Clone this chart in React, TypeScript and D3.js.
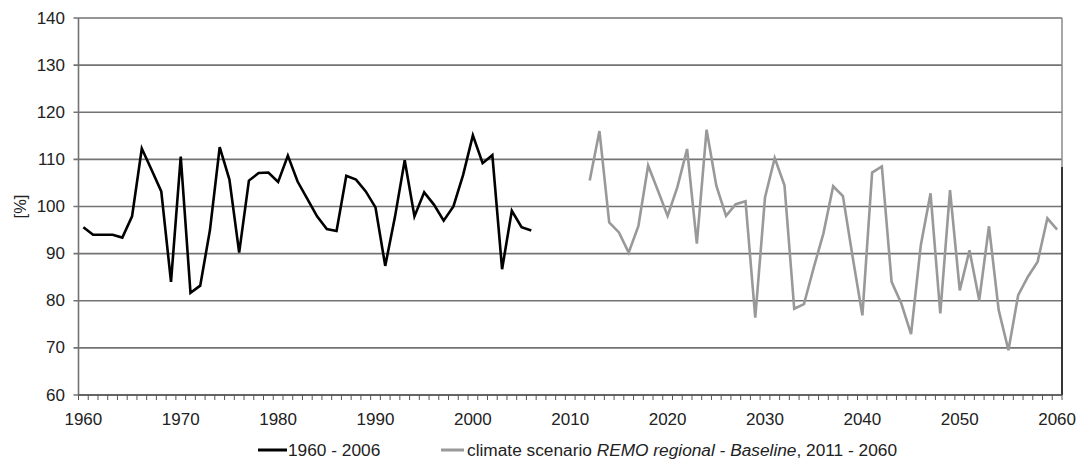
import React from 'react'
import * as d3 from 'd3'

// observed series 1960 - 2006
const obsYears = d3.range(1960, 2007)
const obsValues = [
  95.6, 94.0, 94.0, 94.0, 93.4, 97.9, 112.3, 107.8, 103.2, 84.0,
  110.6, 81.7, 83.2, 95.0, 112.6, 105.7, 90.2, 105.5, 107.1, 107.2,
  105.2, 110.8, 105.3, 101.6, 97.9, 95.2, 94.8, 106.5, 105.7, 103.2,
  99.8, 87.4, 97.8, 109.8, 97.9, 103.0, 100.4, 97.0, 100.0, 106.7,
  115.1, 109.2, 110.9, 86.7, 99.1, 95.6, 94.9
]

// scenario 2012 - 2060
const scnYears = d3.range(2012, 2061)
const scnValues = [
  105.5, 116.0, 96.6, 94.5, 90.2, 95.9, 108.7, 103.4, 98.0, 104.1,
  112.2, 92.1, 116.3, 104.4, 98.0, 100.5, 101.1, 76.4, 101.9, 110.3,
  104.5, 78.3, 79.3, 87.0, 94.3, 104.3, 102.2, 89.3, 76.9, 107.2,
  108.5, 84.0, 79.4, 72.9, 91.8, 102.8, 77.3, 103.5, 82.2, 90.7,
  80.1, 95.8, 78.0, 69.5, 81.2, 85.1, 88.3, 97.5, 95.1
]

const allYears = d3.range(1960, 2061)
const decadeLabels = d3.range(1960, 2061, 10)
const yTicks = d3.range(60, 141, 10)

const obsLabel = '1960 - 2006'

export default function App () {
  const width = 1083
  const height = 464
  const left = 78.5
  const right = 1062
  const top = 18
  const bottom = 395

  const x = d3.scaleBand<number>()
    .domain(allYears)
    .range([left, right])
    .padding(0)
  const cx = (yr: number) => (x(yr) as number) + x.bandwidth() / 2

  const y = d3.scaleLinear().domain([60, 140]).range([bottom, top])

  const line = d3.line<[number, number]>()
    .x(d => cx(d[0]))
    .y(d => y(d[1]))

  const obs = obsYears.map((yr, i) => [yr, obsValues[i]] as [number, number])
  const scn = scnYears.map((yr, i) => [yr, scnValues[i]] as [number, number])

  const gridColor = '#737373'
  const font = 'Liberation Sans, Arial, sans-serif'

  // band edges for the small ticks
  const edges = allYears.map(yr => x(yr) as number).concat([right])

  return (
    <svg width={width} height={height} style={{ position: 'absolute', left: 0, top: 0, background: '#fff' }}>
      <rect x={0} y={0} width={width} height={height} fill='#fff' />

      {/* grid + y ticks */}
      {yTicks.map(t => (
        <g key={t}>
          <line x1={left - 5} x2={right} y1={y(t)} y2={y(t)} stroke={gridColor} strokeWidth={1.6} />
          <text x={65} y={y(t)} textAnchor='end' dominantBaseline='central'
            fontFamily={font} fontSize={17} fill='#222'>{t}</text>
        </g>
      ))}

      {/* axes */}
      <line x1={left} x2={left} y1={top} y2={bottom} stroke={gridColor} strokeWidth={1.6} />
      <line x1={right} x2={right} y1={top} y2={bottom} stroke='#8a8a8a' strokeWidth={1.5} />
      <line x1={right} x2={right} y1={y(108.4)} y2={bottom} stroke='#111' strokeWidth={1.5} />
      <line x1={left} x2={right} y1={bottom} y2={bottom} stroke='#555' strokeWidth={1.5} />

      {edges.map((ex, i) => (
        <line key={i} x1={ex} x2={ex} y1={bottom} y2={bottom + 5} stroke='#555' strokeWidth={1} />
      ))}

      {decadeLabels.map(yr => (
        <text key={yr} x={cx(yr)} y={419} textAnchor='middle' dominantBaseline='central'
          fontFamily={font} fontSize={17} fill='#222'>{yr}</text>
      ))}

      <text transform={`translate(19.5, ${(top + bottom) / 2}) rotate(-90)`} textAnchor='middle'
        dominantBaseline='central' fontFamily={font} fontSize={16.5} fill='#222'>[%]</text>

      {/* series */}
      <path d={line(scn) || ''} fill='none' stroke='#999' strokeWidth={2.6} strokeLinejoin='miter' />
      <path d={line(obs) || ''} fill='none' stroke='#000' strokeWidth={2.6} strokeLinejoin='miter' />

      {/* legend */}
      <g fontFamily={font} fontSize={17.3} fill='#222'>
        <line x1={258} x2={287} y1={450} y2={450} stroke='#000' strokeWidth={3} />
        <text x={288} y={450} dominantBaseline='central'>{obsLabel}</text>
        <line x1={441} x2={464} y1={450} y2={450} stroke='#999' strokeWidth={3} />
        <text x={467} y={450} dominantBaseline='central'>
          <tspan>climate scenario </tspan>
          <tspan fontStyle='italic'>REMO regional - Baseline</tspan>
          <tspan>, 2011 - 2060</tspan>
        </text>
      </g>
    </svg>
  )
}
